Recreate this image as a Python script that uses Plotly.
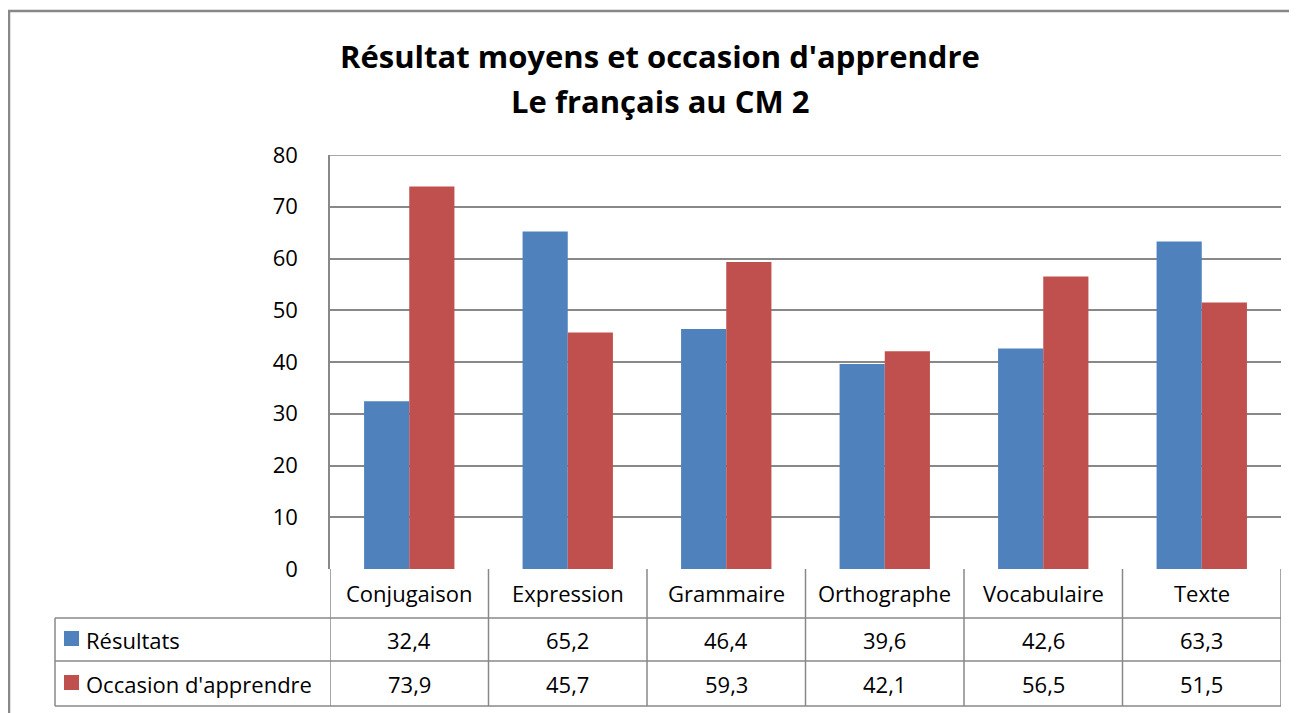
import plotly.graph_objects as go

categories = ["Conjugaison", "Expression", "Grammaire", "Orthographe", "Vocabulaire", "Texte"]
resultats = [32.4, 65.2, 46.4, 39.6, 42.6, 63.3]
occasion = [73.9, 45.7, 59.3, 42.1, 56.5, 51.5]
series_names = ["Résultats", "Occasion d'apprendre"]
title_lines = ["Résultat moyens et occasion d'apprendre", "Le français au CM 2"]
y_ticks = [0, 10, 20, 30, 40, 50, 60, 70, 80]

OFF = 8  # page body margin
W, H = 1297 - OFF, 713 - OFF
L, R, T, B = 330, 1281, 155, 569  # plot area in screen pixels
colors = ["#4F81BD", "#C0504D"]
grid = "#888888"
FONT = "Open Sans"
FS = 22

def px_x(p):
    return (p - L) / (R - L)

def px_y(p):
    return (B - p) / (B - T)

fig = go.Figure()
for name, vals, c in zip(series_names, [resultats, occasion], colors):
    fig.add_trace(go.Bar(x=categories, y=vals, name=name, marker=dict(color=c, line=dict(width=0)),
                         showlegend=False, hoverinfo="x+y"))

shapes = []
annotations = []

# outer frame
shapes.append(dict(type="rect", xref="paper", yref="paper", x0=px_x(9), x1=px_x(1320), y0=px_y(740), y1=px_y(11),
                   line=dict(color="#888888", width=2.5), layer="below"))

# top gridline at max value
shapes.append(dict(type="line", xref="paper", yref="y", x0=0, x1=1, y0=y_ticks[-1], y1=y_ticks[-1],
                   line=dict(color=grid, width=1.5), layer="below"))

# table horizontal lines
for yp in [618, 661, 706]:
    shapes.append(dict(type="line", xref="paper", yref="paper", x0=px_x(55), x1=1, y0=px_y(yp), y1=px_y(yp),
                       line=dict(color=grid, width=1.5)))
shapes.append(dict(type="line", xref="paper", yref="paper", x0=px_x(55), x1=px_x(55), y0=px_y(618), y1=px_y(706),
                   line=dict(color=grid, width=1.5)))
n = len(categories)
for i in range(n + 1):
    shapes.append(dict(type="line", xref="x", yref="paper", x0=i - 0.5, x1=i - 0.5, y0=px_y(569), y1=px_y(706),
                       line=dict(color=grid, width=1.5)))

for i, cat in enumerate(categories):
    annotations.append(dict(x=i, y=px_y(593), xref="x", yref="paper", text=cat, showarrow=False,
                            xanchor="center", yanchor="middle", font=dict(family=FONT, size=FS, color="#000")))
    for vals, yp in [(resultats, 640), (occasion, 684)]:
        annotations.append(dict(x=i, y=px_y(yp), xref="x", yref="paper", text=f"{vals[i]:.1f}".replace(".", ","),
                                showarrow=False, xanchor="center", yanchor="middle",
                                font=dict(family=FONT, size=FS, color="#000")))

for name, c, yp in zip(series_names, colors, [639, 683]):
    shapes.append(dict(type="rect", xref="paper", yref="paper", x0=px_x(64), x1=px_x(79), y0=px_y(yp + 7), y1=px_y(yp - 8),
                       line=dict(width=0), fillcolor=c))
    annotations.append(dict(x=px_x(84), y=px_y(yp + 1), xref="paper", yref="paper", text=name, showarrow=False,
                            xanchor="left", yanchor="middle", font=dict(family=FONT, size=FS, color="#000")))

for line, yp in zip(title_lines, [56, 101]):
    annotations.append(dict(x=px_x(660), y=px_y(yp), xref="paper", yref="paper", text=f"<b>{line}</b>",
                            showarrow=False, xanchor="center", yanchor="middle",
                            font=dict(family=FONT, size=31, color="#000")))

fig.update_layout(
    width=W, height=H, autosize=False,
    margin=dict(l=L - OFF, r=W + OFF - R, t=T - OFF, b=H + OFF - B),
    paper_bgcolor="white", plot_bgcolor="white",
    barmode="group", bargap=0.43, bargroupgap=0,
    shapes=shapes, annotations=annotations,
    xaxis=dict(range=[-0.5, n - 0.5], showticklabels=False, showgrid=False, zeroline=False, showline=False, ticks=""),
    yaxis=dict(range=[0, 80], tickvals=y_ticks, showgrid=True, gridcolor=grid, gridwidth=1.5,
               zeroline=False, showline=True, linecolor=grid, linewidth=1.5, ticks="",
               ticklabelstandoff=26, tickfont=dict(family=FONT, size=FS, color="#000")),
)

fig.write_html("out.html")
